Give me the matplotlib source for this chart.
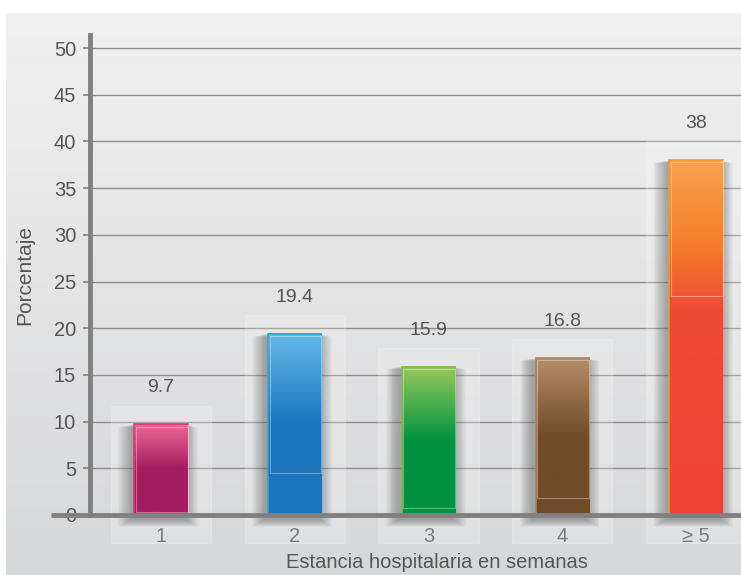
import numpy as np
import matplotlib
matplotlib.use('Agg')
import matplotlib.pyplot as plt
from matplotlib import colors
from matplotlib.patches import Rectangle

matplotlib.rc('font', family='Liberation Sans', size=14)

categories = ['1', '2', '3', '4', '\u2265 5']
values = [9.7, 19.4, 15.9, 16.8, 38]
yticks = [0, 5, 10, 15, 20, 25, 30, 35, 40, 45, 50]

# gradient stops per bar: (fraction of bar height from top, colour)
stops = [
    [(0.0, '#ec6895'), (0.5, '#a21c60'), (1.0, '#a21c60')],
    [(0.0, '#65b8e8'), (0.5, '#1a75bc'), (1.0, '#1a75bc')],
    [(0.0, '#97c95c'), (0.5, '#00923f'), (1.0, '#00923f')],
    [(0.0, '#b48e68'), (0.5, '#6f4b27'), (1.0, '#6f4b27')],
    [(0.0, '#f9a34b'), (0.25, '#f47b29'), (0.42, '#ef4a35'), (1.0, '#ef4136')],
]
edge_cols = ['#e8336f', '#2aa3dc', '#7cbf4a', '#a98560', '#f7941d']
inner_bottom = [0.3, 4.5, 0.8, 1.8, 23.5]

W, H = 741, 575
fig = plt.figure(figsize=(W / 100, H / 100), dpi=100)
fig.patch.set_facecolor('white')

# grey panel behind the chart
bg = fig.add_axes([6 / W, 0, 1 - 6 / W, 1 - 13 / H], zorder=-10)
grad = np.linspace(0, 1, 256)[:, None]
bg_cmap = colors.LinearSegmentedColormap.from_list('bg', ['#f0f0f0', '#d6d7d9'])
bg.imshow(grad, aspect='auto', cmap=bg_cmap, extent=(0, 1, 0, 1))
bg.set_axis_off()

ax = fig.add_axes([90 / W, 60 / H, 1 - 90 / W, (515 - 35) / H])
ax.patch.set_alpha(0)

xs = np.arange(1, len(values) + 1)
bw = 0.4

for g in yticks[1:]:
    ax.axhline(g, color='#8e8e8e', lw=1.0, zorder=1)

for i, (x, v) in enumerate(zip(xs, values)):
    # pale backing box
    ax.add_patch(Rectangle((x - 0.375, -3.0), 0.75, v + 5.0, facecolor='white',
                           alpha=0.22, edgecolor='white', lw=0.8,
                           clip_on=False, zorder=2))
    # soft shadow, heavier on the left and below
    for k in range(14):
        pad = 0.007 * (k + 1)
        ax.add_patch(Rectangle((x - bw / 2 - pad - 0.02, -0.5 - pad * 8),
                               bw + 2 * pad, v + 0.5 + pad * 5,
                               facecolor='#3a3a3a', alpha=0.03, lw=0,
                               clip_on=False, zorder=3))
    # gradient fill
    st = stops[i]
    cm = colors.LinearSegmentedColormap.from_list('b%d' % i, [(p, c) for p, c in st])
    ax.imshow(grad, aspect='auto', cmap=cm, extent=(x - bw / 2, x + bw / 2, 0, v),
              zorder=4, interpolation='bilinear')
    ax.plot([x - bw / 2, x - bw / 2, x + bw / 2], [0, v, v], color=edge_cols[i],
            lw=1.2, zorder=5, solid_joinstyle='miter')
    ax.add_patch(Rectangle((x - bw / 2 + 0.012, inner_bottom[i]), bw - 0.012, v - 0.25 - inner_bottom[i],
                           facecolor='none', edgecolor='white', alpha=0.35, lw=0.8, zorder=5))
    ax.text(x, v + 3.9, str(values[i]), ha='center', va='center', color='#555555',
            fontsize=14, zorder=6)

ax.set_xlim(0.47, 5.336)
ax.set_ylim(0, 51.4)

for s in ['top', 'right', 'bottom']:
    ax.spines[s].set_visible(False)
ax.spines['left'].set_color('#808080')
ax.spines['left'].set_linewidth(3.5)
ax.plot([-0.06, 1], [0, 0], transform=ax.transAxes, color='#808080', lw=3.5,
        clip_on=False, zorder=7, solid_capstyle='butt')

ax.set_yticks(yticks)
ax.set_xticks(xs)
ax.set_xticklabels(categories)
ax.tick_params(axis='y', colors='#808080', labelcolor='#555555', length=5, width=1.2,
               labelsize=14.5, pad=5)
ax.tick_params(axis='x', length=0, labelcolor='#555555', labelsize=14.5, pad=9)

fig.text(25 / W, 1 - 275 / H, 'Porcentaje', rotation=90, ha='center', va='center',
         color='#555555', fontsize=15)
fig.text(437 / W, 1 - 562 / H, 'Estancia hospitalaria en semanas', ha='center',
         va='center', color='#555555', fontsize=14.5)

fig.savefig('out.png', dpi=100)
